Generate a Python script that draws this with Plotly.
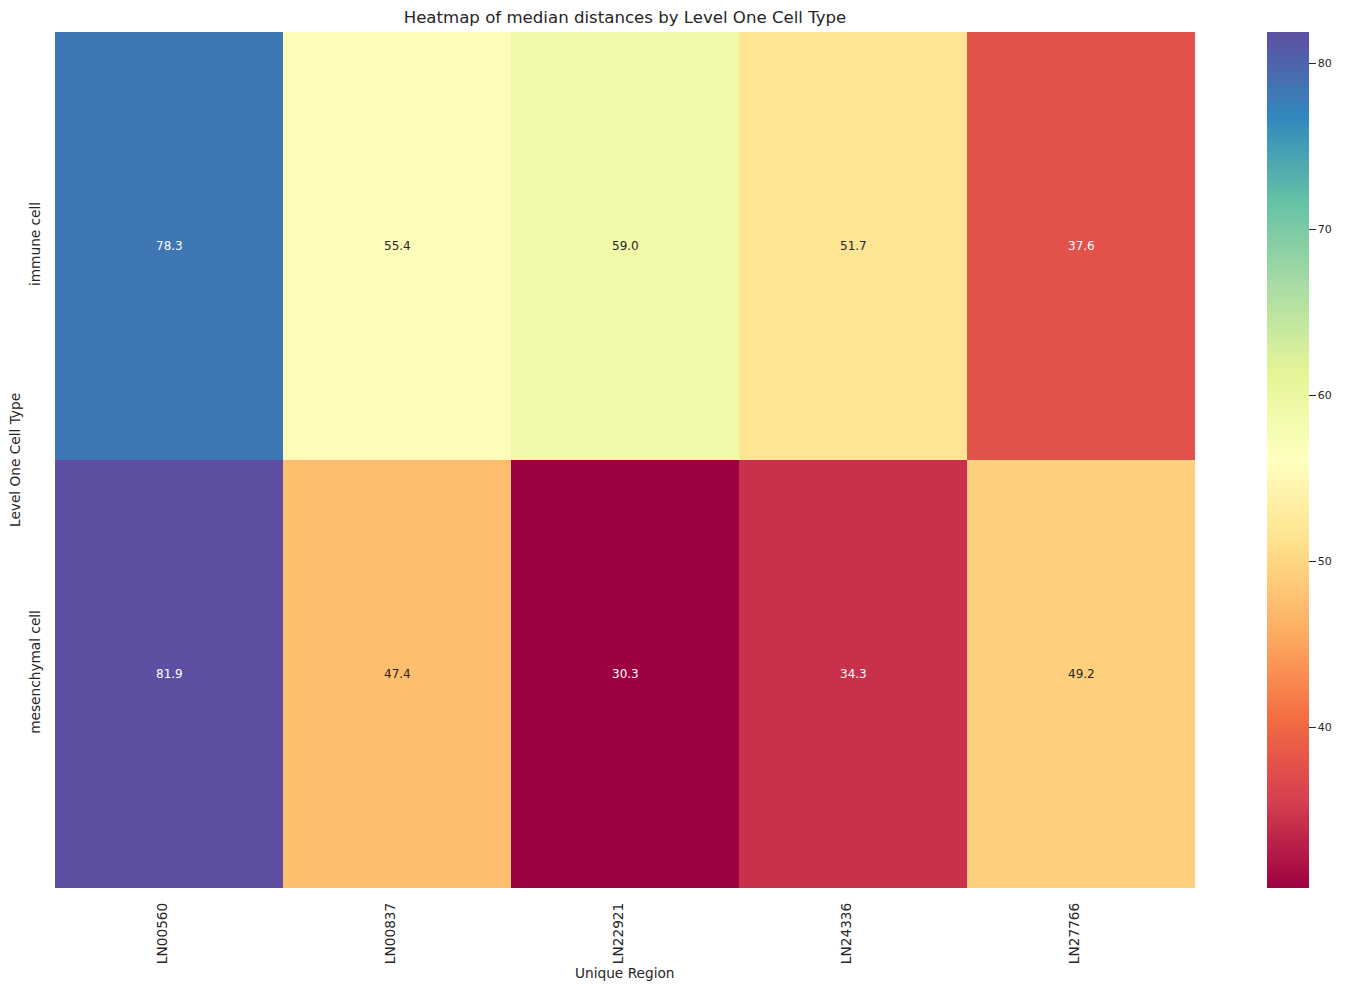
import plotly.graph_objects as go

regions = ["LN00560", "LN00837", "LN22921", "LN24336", "LN27766"]
cell_types = ["immune cell", "mesenchymal cell"]
immune_vals = [78.3, 55.4, 59.0, 51.7, 37.6]
mesenchymal_vals = [81.9, 47.4, 30.3, 34.3, 49.2]
cbar_ticks = [40, 50, 60, 70, 80]

z = [immune_vals, mesenchymal_vals]
zmin = min(min(r) for r in z)
zmax = max(max(r) for r in z)

spectral = ["#9e0142", "#d53e4f", "#f46d43", "#fdae61", "#fee08b", "#ffffbf",
            "#e6f598", "#abdda4", "#66c2a5", "#3288bd", "#5e4fa2"]
colorscale = [[i / (len(spectral) - 1), c] for i, c in enumerate(spectral)]

FONT = "DejaVu Sans"
TXT = "#262626"

# page body has an 8px default margin; work in figure coordinates
OFF = 8
W, H = 1347 - OFF, 991 - OFF
L, R, T, B = 55 - OFF, 1195 - OFF, 32 - OFF, 888 - OFF
pw = R - L

fig = go.Figure(go.Heatmap(
    z=z, x=regions, y=cell_types,
    zmin=zmin, zmax=zmax,
    colorscale=colorscale,
    xgap=0, ygap=0,
    colorbar=dict(
        x=(1267 - OFF - L) / pw, xanchor="left", xref="paper", xpad=0,
        y=0, yanchor="bottom", len=1, lenmode="fraction", ypad=0,
        thickness=42, thicknessmode="pixels",
        outlinewidth=0,
        tickvals=cbar_ticks, ticks="outside", ticklen=7, tickwidth=1,
        tickcolor=TXT,
        tickfont=dict(family=FONT, size=11, color=TXT),
    ),
    hoverinfo="skip",
))


def lum(hexcol):
    h = hexcol.lstrip("#")
    r, g, b = [int(h[i:i + 2], 16) / 255 for i in (0, 2, 4)]
    def f(c):
        return c / 12.92 if c <= 0.03928 else ((c + 0.055) / 1.055) ** 2.4
    return 0.2126 * f(r) + 0.7152 * f(g) + 0.0722 * f(b)


def color_at(v):
    t = (v - zmin) / (zmax - zmin)
    n = len(spectral) - 1
    i = min(int(t * n), n - 1)
    f = t * n - i
    a = spectral[i].lstrip("#"); b = spectral[i + 1].lstrip("#")
    ca = [int(a[k:k + 2], 16) for k in (0, 2, 4)]
    cb = [int(b[k:k + 2], 16) for k in (0, 2, 4)]
    c = [round(ca[k] + (cb[k] - ca[k]) * f) for k in range(3)]
    return "#%02x%02x%02x" % tuple(c)


annotations = []
for yi, row in enumerate(z):
    for xi, v in enumerate(row):
        txtcol = TXT if lum(color_at(v)) > 0.408 else "white"
        annotations.append(dict(
            x=regions[xi], y=cell_types[yi], text=f"{v:.1f}",
            showarrow=False, font=dict(family=FONT, size=12, color=txtcol),
        ))

annotations.append(dict(
    text="Unique Region", xref="paper", yref="paper", x=0.5,
    y=-(973 - OFF - B) / (B - T),
    yanchor="middle", showarrow=False, font=dict(family=FONT, size=13.7, color=TXT),
))
annotations.append(dict(
    text="Level One Cell Type", xref="paper", yref="paper",
    x=-(L - (15 - OFF)) / pw, y=0.5,
    xanchor="center", yanchor="middle", textangle=-90, showarrow=False,
    font=dict(family=FONT, size=13.7, color=TXT),
))

fig.update_layout(
    width=W, height=H,
    margin=dict(l=L, r=W - R, t=T, b=H - B, autoexpand=False),
    paper_bgcolor="white", plot_bgcolor="white",
    font=dict(family=FONT, color=TXT),
    title=dict(text="Heatmap of median distances by Level One Cell Type",
               x=(L + R) / 2 / W, xanchor="center", y=1 - (17 - OFF) / H, yanchor="middle",
               font=dict(family=FONT, size=16.6, color=TXT)),
    annotations=annotations,
    xaxis=dict(
        automargin=False,
        tickangle=-90, showgrid=False, zeroline=False, showline=False,
        ticks="", ticklabelstandoff=11, ticklabelshift=-6,
        tickfont=dict(family=FONT, size=13.7, color=TXT),
        range=[-0.5, 4.5],
    ),
    yaxis=dict(
        automargin=False,
        tickangle=-90, showgrid=False, zeroline=False, showline=False,
        ticks="", ticklabelstandoff=11, tickfont=dict(family=FONT, size=13.7, color=TXT),
        autorange="reversed",
    ),
)

fig.write_html("out.html")
